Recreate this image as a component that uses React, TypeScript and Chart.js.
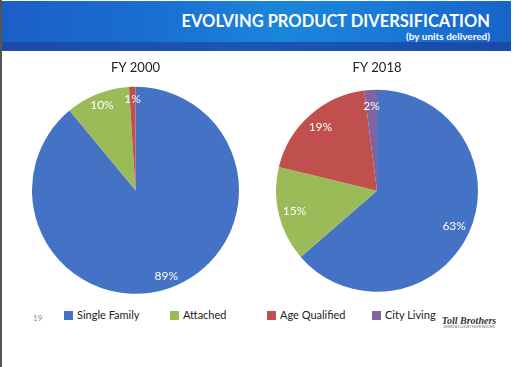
import React, { useEffect, useRef } from "react";
import { Chart, registerables } from "chart.js";

Chart.register(...registerables);

const categories = ["Single Family", "Attached", "Age Qualified", "City Living"];
const colors = ["#4472C4", "#9BBB59", "#C0504D", "#8064A2"];
const fy2000Values = [89, 10, 1, 0];
const fy2018Values = [63, 15, 19, 2];
const chartTitles = ["FY 2000", "FY 2018"];

const FONT = "Lato, 'Open Sans', sans-serif";

const sliceLabels = {
  id: "sliceLabels",
  afterDatasetsDraw(chart: any, _args: any, opts: any) {
    const ctx = chart.ctx;
    const meta = chart.getDatasetMeta(0);
    const data = chart.data.datasets[0].data as number[];
    ctx.save();
    ctx.fillStyle = "#ffffff";
    ctx.font = `12px ${FONT}`;
    ctx.textAlign = "center";
    ctx.textBaseline = "middle";
    meta.data.forEach((arc: any, i: number) => {
      const v = data[i];
      if (!v) return;
      const mid = (arc.startAngle + arc.endAngle) / 2;
      const r = arc.outerRadius * (opts.frac || 0.86);
      ctx.fillText(`${v}%`, arc.x + Math.cos(mid) * r, arc.y + Math.sin(mid) * r);
    });
    ctx.restore();
  },
};

function PieChart(props: {
  values: number[];
  title: string;
  frac: number;
  padBottom: number;
  width: number;
  height: number;
}) {
  const ref = useRef<HTMLCanvasElement>(null);
  useEffect(() => {
    if (!ref.current) return;
    const chart = new Chart(ref.current, {
      type: "pie",
      data: {
        labels: categories,
        datasets: [
          {
            data: props.values,
            backgroundColor: colors,
            borderWidth: 0,
          },
        ],
      },
      options: {
        animation: false,
        responsive: false,
        maintainAspectRatio: false,
        layout: { padding: 0 },
        plugins: {
          legend: { display: false },
          tooltip: { enabled: false },
          title: {
            display: true,
            text: props.title,
            color: "#222222",
            font: { family: FONT, size: 13, weight: "normal" as any, lineHeight: 1.2 },
            padding: { top: 5, bottom: props.padBottom },
          },
          sliceLabels: { frac: props.frac },
        } as any,
      },
      plugins: [sliceLabels],
    });
    return () => chart.destroy();
  }, []);
  return (
    <canvas
      ref={ref}
      width={props.width}
      height={props.height}
      style={{ width: props.width, height: props.height, display: "block" }}
    />
  );
}

export default function App() {
  return (
    <div
      style={{
        position: "fixed",
        left: 0,
        top: 0,
        width: 513,
        height: 367,
        background: "#ffffff",
        overflow: "hidden",
        fontFamily: FONT,
      }}
    >
      <div style={{ position: "absolute", left: 0, top: 0, width: 2, height: 367, background: "#555" }} />
      <div
        style={{
          position: "absolute",
          left: 2,
          top: 1,
          width: 509,
          height: 41,
          background:
            "linear-gradient(90deg, #1c5fc6 0%, #1a6fd2 30%, #1a86da 55%, #1a7ad6 75%, #1763c8 100%)",
        }}
      />
      <div
        style={{
          position: "absolute",
          left: 2,
          top: 42,
          width: 509,
          height: 9,
          background: "linear-gradient(90deg, #1d4aa8 0%, #1b56b4 50%, #1a4aa8 100%)",
        }}
      />
      <div
        style={{
          position: "absolute",
          right: 23,
          top: 11,
          color: "#ffffff",
          fontWeight: 700,
          fontSize: 16.5,
          lineHeight: "20px",
          whiteSpace: "nowrap",
        }}
      >
        EVOLVING PRODUCT DIVERSIFICATION
      </div>
      <div
        style={{
          position: "absolute",
          right: 23,
          top: 30,
          color: "#ffffff",
          fontWeight: 700,
          fontSize: 10,
          lineHeight: "12px",
          whiteSpace: "nowrap",
        }}
      >
        (by units delivered)
      </div>

      <div style={{ position: "absolute", left: 32, top: 55 }}>
        <PieChart values={fy2000Values} title={chartTitles[0]} frac={0.88} padBottom={11} width={207} height={239} />
      </div>
      <div style={{ position: "absolute", left: 276, top: 55 }}>
        <PieChart values={fy2018Values} title={chartTitles[1]} frac={0.84} padBottom={14} width={202} height={237} />
      </div>

      <div style={{ position: "absolute", left: 33, top: 313, fontSize: 8, color: "#888" }}>19</div>

      {categories.map((c, i) => (
        <div
          key={c}
          style={{
            position: "absolute",
            left: [64, 170, 267, 372][i],
            top: 308,
            display: "flex",
            alignItems: "center",
            fontSize: 11,
            lineHeight: "14px",
            color: "#222",
            whiteSpace: "nowrap",
          }}
        >
          <span style={{ display: "inline-block", width: 9, height: 9, background: colors[i], marginRight: 4 }} />
          <span>{c}</span>
        </div>
      ))}

      <div
        style={{
          position: "absolute",
          left: 440,
          top: 316,
          width: 58,
          textAlign: "center",
          color: "#333",
        }}
      >
        <div
          style={{
            fontFamily: "'Liberation Serif', 'DejaVu Serif', serif",
            fontStyle: "italic",
            fontWeight: 700,
            fontSize: 10,
            lineHeight: "9px",
            whiteSpace: "nowrap",
          }}
        >
          Toll Brothers
        </div>
        <div style={{ fontSize: 3, lineHeight: "4px", whiteSpace: "nowrap", color: "#666" }}>
          AMERICA'S LUXURY HOME BUILDER
        </div>
      </div>
    </div>
  );
}
